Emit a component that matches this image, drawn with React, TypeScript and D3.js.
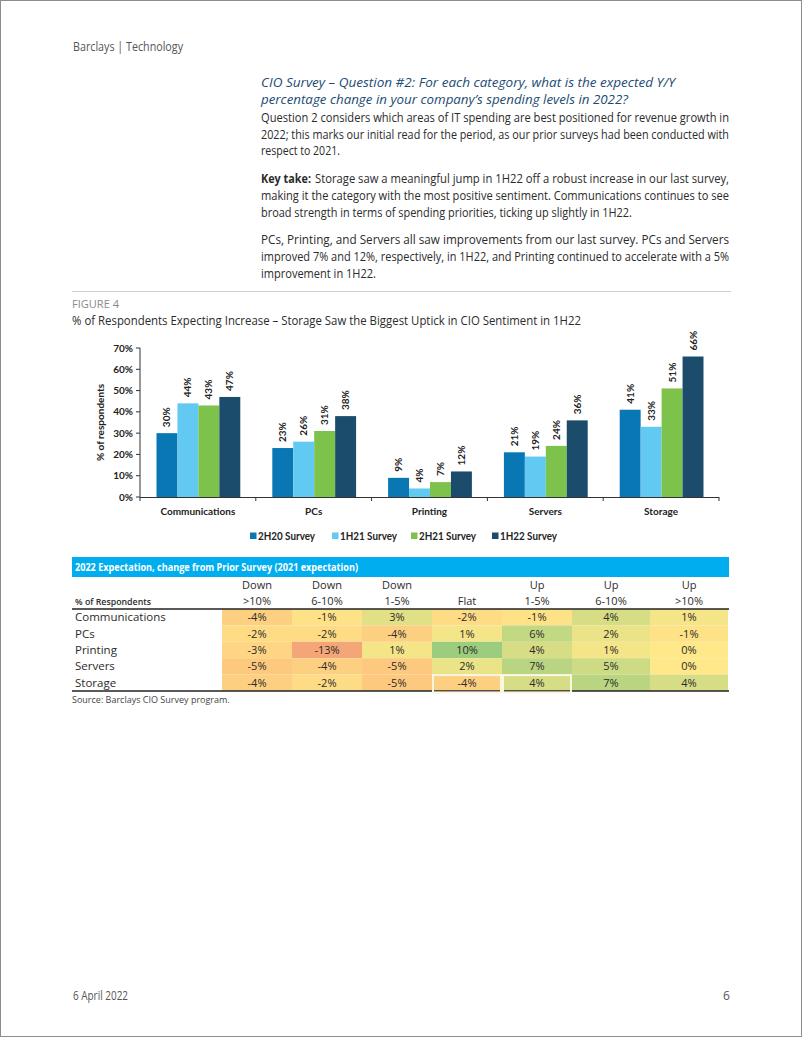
import React from "react";
import * as d3 from "d3";

const categories = ["Communications", "PCs", "Printing", "Servers", "Storage"];
const seriesNames = ["2H20 Survey", "1H21 Survey", "2H21 Survey", "1H22 Survey"];
const s2H20 = [30, 23, 9, 21, 41];
const s1H21 = [44, 26, 4, 19, 33];
const s2H21 = [43, 31, 7, 24, 51];
const s1H22 = [47, 38, 12, 36, 66];
const seriesValues = [s2H20, s1H21, s2H21, s1H22];
const seriesColors = ["#0a77b5", "#62c9f2", "#7dc24a", "#1b4c6b"];
const yTicks = [0, 10, 20, 30, 40, 50, 60, 70];

const colHead1 = ["Down", "Down", "Down", "", "Up", "Up", "Up"];
const colHead2 = [">10%", "6-10%", "1-5%", "Flat", "1-5%", "6-10%", ">10%"];
const tCommunications = [-4, -1, 3, -2, -1, 4, 1];
const tPCs = [-2, -2, -4, 1, 6, 2, -1];
const tPrinting = [-3, -13, 1, 10, 4, 1, 0];
const tServers = [-5, -4, -5, 2, 7, 5, 0];
const tStorage = [-4, -2, -5, -4, 4, 7, 4];
const tableRows = [tCommunications, tPCs, tPrinting, tServers, tStorage];

const SANS = "'Open Sans', 'Noto Sans', sans-serif";
const CHART = "Lato, 'Open Sans', sans-serif";
const TXT = "#2b2b2b";

export default function App() {
  // chart scales
  const x0 = d3.scaleBand<string>().domain(categories).range([140, 719]).padding(0);
  const x1 = d3
    .scaleBand<string>()
    .domain(seriesNames)
    .range([16.5, x0.bandwidth() - 15.5])
    .padding(0);
  const y = d3.scaleLinear().domain([0, 70]).range([497, 348]);

  // table scales
  const colEdges = [222, 292, 362, 432, 502, 572, 650, 728];
  const rowY = d3.scaleBand<string>().domain(categories).range([609, 691]).padding(0);
  const heat = d3
    .scaleLinear<string>()
    .domain([-13, -5, 0, 10])
    .range(["#f5a679", "#fdc97f", "#fee88a", "#9ccd7e"])
    .interpolate(d3.interpolateRgb);

  const bodyLines: { x: number; y: number; w: number; t: string; bold?: boolean }[] = [
    { x: 261, y: 122, w: 468, t: "Question 2 considers which areas of IT spending are best positioned for revenue growth in" },
    { x: 261, y: 139, w: 468, t: "2022; this marks our initial read for the period, as our prior surveys had been conducted with" },
    { x: 261, y: 155, w: 79, t: "respect to 2021." },
    { x: 261, y: 183, w: 50, t: "Key take:", bold: true },
    { x: 315, y: 183, w: 414, t: "Storage saw a meaningful jump in 1H22 off a robust increase in our last survey," },
    { x: 261, y: 200, w: 468, t: "making it the category with the most positive sentiment. Communications continues to see" },
    { x: 261, y: 217, w: 371, t: "broad strength in terms of spending priorities, ticking up slightly in 1H22." },
    { x: 261, y: 244, w: 468, t: "PCs, Printing, and Servers all saw improvements from our last survey. PCs and Servers" },
    { x: 261, y: 261, w: 468, t: "improved 7% and 12%, respectively, in 1H22, and Printing continued to accelerate with a 5%" },
    { x: 261, y: 278, w: 115, t: "improvement in 1H22." },
  ];

  const legendX = [250, 332, 411, 492];

  return (
    <svg
      width={802}
      height={1037}
      style={{ position: "absolute", left: 0, top: 0, background: "#fff" }}
      fontFamily={SANS}
    >
      <rect x={0.5} y={0.5} width={801} height={1036} fill="#fff" stroke="#8c8c8c" strokeWidth={1} />

      {/* page header */}
      <text x={73} y={51} fontSize={12.5} fill="#555" textLength={110} lengthAdjust="spacingAndGlyphs">
        Barclays | Technology
      </text>

      {/* heading */}
      <text x={261} y={86.5} fontSize={13.5} fontStyle="italic" fill="#1c4c73" textLength={414} lengthAdjust="spacingAndGlyphs">
        CIO Survey – Question #2: For each category, what is the expected Y/Y
      </text>
      <text x={261} y={103.5} fontSize={13.5} fontStyle="italic" fill="#1c4c73" textLength={367} lengthAdjust="spacingAndGlyphs">
        percentage change in your company’s spending levels in 2022?
      </text>

      {bodyLines.map((l, i) => (
        <text
          key={i}
          x={l.x}
          y={l.y}
          fontSize={12.5}
          fontWeight={l.bold ? 700 : 400}
          fill={TXT}
          textLength={l.w}
          lengthAdjust="spacingAndGlyphs"
        >
          {l.t}
        </text>
      ))}

      <line x1={72} x2={731} y1={291.5} y2={291.5} stroke="#cfcfcf" strokeWidth={1} />

      <text x={72} y={308} fontSize={11} fill="#8a8a8a" textLength={47} lengthAdjust="spacingAndGlyphs">
        FIGURE 4
      </text>
      <text x={72} y={325} fontSize={12.5} fill={TXT} textLength={509} lengthAdjust="spacingAndGlyphs">
        % of Respondents Expecting Increase – Storage Saw the Biggest Uptick in CIO Sentiment in 1H22
      </text>

      {/* bar chart */}
      <g fontFamily={CHART}>
        {categories.map((c, ci) =>
          seriesValues.map((vals, si) => {
            const bx = (x0(c) as number) + (x1(seriesNames[si]) as number);
            const bw = x1.bandwidth();
            const top = y(vals[ci]);
            return (
              <g key={c + si}>
                <rect x={bx} y={top} width={bw} height={y(0) - top} fill={seriesColors[si]} />
                <text
                  transform={`translate(${bx + bw / 2 + 3.5},${top - 6}) rotate(-90)`}
                  fontSize={10}
                  fontWeight={700}
                  fill="#222"
                >
                  {vals[ci]}%
                </text>
              </g>
            );
          })
        )}

        {/* y axis */}
        <line x1={140} x2={140} y1={y(70)} y2={y(0)} stroke="#333" strokeWidth={1} />
        {yTicks.map((t) => (
          <g key={t}>
            <line x1={136} x2={140} y1={y(t)} y2={y(t)} stroke="#333" strokeWidth={1} />
            <text x={133} y={y(t) + 3.5} textAnchor="end" fontSize={10} fontWeight={700} fill="#222">
              {t}%
            </text>
          </g>
        ))}
        <text
          transform={`translate(${104},${y(35)}) rotate(-90)`}
          textAnchor="middle"
          fontSize={10}
          fontWeight={700}
          fill="#222"
        >
          % of respondents
        </text>

        {/* x axis */}
        <line x1={140} x2={719} y1={y(0) + 0.5} y2={y(0) + 0.5} stroke="#333" strokeWidth={1.2} />
        {[...categories.map((c) => x0(c) as number), 719].map((tx, i) => (
          <line key={i} x1={tx} x2={tx} y1={y(0)} y2={y(0) + 4} stroke="#333" strokeWidth={1} />
        ))}
        {categories.map((c) => (
          <text
            key={c}
            x={(x0(c) as number) + x0.bandwidth() / 2}
            y={515}
            textAnchor="middle"
            fontSize={10}
            fontWeight={700}
            fill="#222"
          >
            {c}
          </text>
        ))}

        {/* legend */}
        {seriesNames.map((s, i) => {
          const lx = legendX[i];
          return (
            <g key={s}>
              <rect x={lx} y={532.5} width={6.5} height={6.5} fill={seriesColors[i]} />
              <text
                x={lx + 8}
                y={540}
                fontSize={10.5}
                fontWeight={700}
                fill="#222"
                textLength={57}
                lengthAdjust="spacingAndGlyphs"
              >
                {s}
              </text>
            </g>
          );
        })}
      </g>

      {/* table */}
      <rect x={72} y={557} width={657} height={20} fill="#00aeef" />
      <text x={75} y={571} fontSize={10} fontWeight={700} fill="#fff" textLength={283} lengthAdjust="spacingAndGlyphs">
        2022 Expectation, change from Prior Survey (2021 expectation)
      </text>
      {colHead2.map((h, i) => {
        const cx = (colEdges[i] + colEdges[i + 1]) / 2;
        return (
          <g key={i}>
            {colHead1[i] && (
              <text x={cx} y={589} textAnchor="middle" fontSize={11} fill={TXT}>
                {colHead1[i]}
              </text>
            )}
            <text x={cx} y={605} textAnchor="middle" fontSize={11} fill={TXT}>
              {h}
            </text>
          </g>
        );
      })}
      <text x={75} y={605} fontSize={9.5} fontWeight={600} fill={TXT} textLength={76} lengthAdjust="spacingAndGlyphs">
        % of Respondents
      </text>

      {tableRows.map((vals, ri) => {
        const ry = rowY(categories[ri]) as number;
        const rh = rowY.bandwidth();
        return (
          <g key={ri}>
            {vals.map((v, ci) => (
              <rect
                key={ci}
                x={colEdges[ci]}
                y={ry}
                width={colEdges[ci + 1] - colEdges[ci]}
                height={rh}
                fill={heat(v)}
              />
            ))}
            <text x={75} y={ry + rh / 2 + 4} fontSize={11.5} fill={TXT}>
              {categories[ri]}
            </text>
            {vals.map((v, ci) => (
              <text
                key={"t" + ci}
                x={(colEdges[ci] + colEdges[ci + 1]) / 2}
                y={ry + rh / 2 + 4}
                textAnchor="middle"
                fontSize={11}
                fill={TXT}
              >
                {v}%
              </text>
            ))}
          </g>
        );
      })}
      <line x1={72} x2={729} y1={609} y2={609} stroke="#222" strokeWidth={1.5} />
      <line x1={72} x2={729} y1={691} y2={691} stroke="#222" strokeWidth={1.5} />
      {[3, 4].map((ci) => {
        const ry = rowY("Storage") as number;
        return (
          <rect
            key={ci}
            x={colEdges[ci] + 1}
            y={ry + 0.5}
            width={colEdges[ci + 1] - colEdges[ci] - 2}
            height={rowY.bandwidth() + 1}
            fill="none"
            stroke="#fbf6df"
            strokeWidth={2}
          />
        );
      })}
      <text x={72} y={703} fontSize={9} fill="#444">
        Source: Barclays CIO Survey program.
      </text>

      {/* footer */}
      <text x={73} y={1000} fontSize={12} fill="#555" textLength={55} lengthAdjust="spacingAndGlyphs">
        6 April 2022
      </text>
      <text x={723} y={1000} fontSize={12} fill="#555">
        6
      </text>
    </svg>
  );
}
